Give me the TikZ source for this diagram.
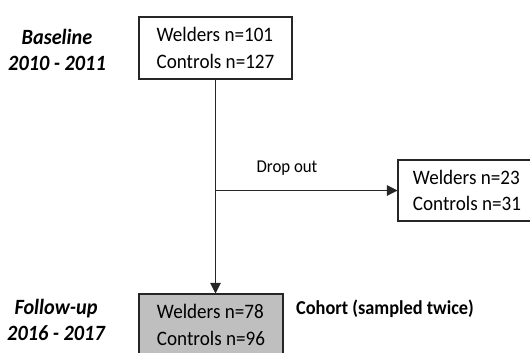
\documentclass[tikz,border=0pt]{standalone}
\usepackage{fontspec}
\setmainfont{Carlito}[FakeStretch=0.93]
\usetikzlibrary{arrows.meta}

\begin{document}
\begin{tikzpicture}[x=0.02cm,y=-0.02cm]
\tikzstyle{every node}+=[inner sep=0pt]
\tikzstyle{countbox}=[draw=black!85,line width=0.6pt,align=left,
  font=\fontsize{11.7}{15.2}\selectfont]
\tikzstyle{period}=[align=center,font=\fontsize{12.4}{14.8}\selectfont\bfseries\itshape]
\tikzstyle{flow}=[black!85,line width=0.6pt,-{Triangle[length=6pt,width=6pt]}]
\useasboundingbox (0,0) rectangle (530,352);
\clip (0,0) rectangle (530,352);
% boxes
\node [countbox,minimum width=3.06cm,minimum height=1.24cm] (base) at (215.5,48) {Welders n=101\\Controls n=127};
\node [countbox,minimum width=2.76cm,minimum height=1.22cm] (drop) at (467,190.5) {Welders n=23\\Controls n=31};
\node [countbox,fill=black!25,minimum width=2.88cm,minimum height=1.24cm] (follow) at (211,325) {Welders n=78\\Controls n=96};
% side labels
\node [period] (baselab) at (57,50) {Baseline\\2010 - 2011};
\node [period] (followlab) at (56,320) {Follow-up\\2016 - 2017};
\node [font=\fontsize{11.2}{13.4}\selectfont\bfseries] (cohort) at (385,309) {Cohort (sampled twice)};
% connectors
\coordinate (split) at (base.south |- drop.west);
\draw [flow] (base.south) -- (base.south |- follow.north);
\draw [flow] (split) -- (drop.west);
\node [font=\fontsize{10.3}{12.4}\selectfont] (droplab) at (287,168) {Drop out};
\end{tikzpicture}
\end{document}
